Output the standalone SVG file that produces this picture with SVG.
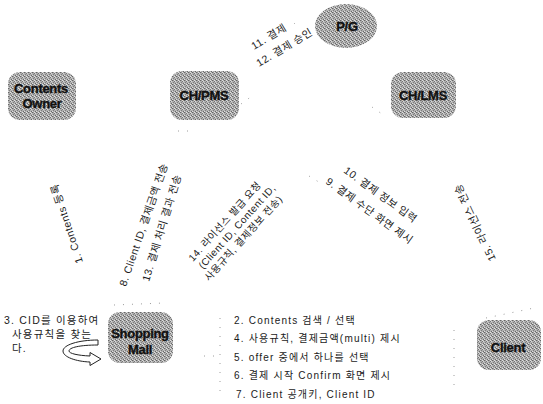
<svg xmlns="http://www.w3.org/2000/svg" width="543" height="404" viewBox="0 0 543 404">
  <defs>
    <!-- halftone screen used for the node fills -->
    <pattern id="screen" width="4" height="4" patternUnits="userSpaceOnUse">
      <rect width="4" height="4" fill="#b0b0b0"/>
      <rect x="0" y="0" width="1" height="1" fill="#666"/>
      <rect x="2" y="1" width="1" height="1" fill="#747474"/>
      <rect x="1" y="2" width="1" height="1" fill="#7e7e7e"/>
      <rect x="3" y="3" width="1" height="1" fill="#6a6a6a"/>
      <rect x="2" y="0" width="1" height="1" fill="#e2e2e2"/>
      <rect x="0" y="3" width="1" height="1" fill="#dcdcdc"/>
      <rect x="3" y="1" width="1" height="1" fill="#d6d6d6"/>
      <rect x="1" y="0" width="1" height="1" fill="#989898"/>
    </pattern>
    <filter id="soft" x="-10%" y="-10%" width="120%" height="120%">
      <feGaussianBlur stdDeviation="0.6"/>
    </filter>
  </defs>
  <style>
    .box { fill: url(#screen); filter: url(#soft); }
    .name { font-family: "Liberation Sans", Arial, sans-serif; font-weight: bold; font-size: 13px; fill: #111; stroke: #111; stroke-width: 0.35px; text-anchor: middle; letter-spacing: -0.3px; }
    .lbl { font-family: "Liberation Sans", "Noto Sans CJK KR", sans-serif; font-size: 10.5px; letter-spacing: 0.5px; fill: #1a1a1a; }
    .lbl.tight { font-size: 10px; }
    .step { font-family: "Liberation Sans", "Noto Sans CJK KR", sans-serif; font-size: 10px; letter-spacing: 1.2px; fill: #1a1a1a; }
    .note { font-family: "Liberation Sans", "Noto Sans CJK KR", sans-serif; font-size: 10.5px; letter-spacing: 1.2px; fill: #1a1a1a; }
    .trace { fill: none; stroke: #9c9c9c; stroke-width: 1; stroke-dasharray: 1 8; }
    .turn { fill: #fff; stroke: #222; stroke-width: 1; }
  </style>

  <rect width="543" height="404" fill="#fff"/>

  <!-- faint connector traces -->
  <g id="connectors">
    <path class="trace" d="M241 104 L252 96"/>
    <path class="trace" d="M178 131 L190 131"/>
    <path class="trace" d="M372 107 L382 114"/>
    <path class="trace" d="M294 23 L296 25"/>
    <path class="trace" d="M309 176 L322 184"/>
    <path class="trace" d="M114 305 L164 303"/>
    <path class="trace" d="M220 318 L220 396"/>
    <path class="trace" d="M204 356 L222 356"/>
    <path class="trace" d="M454 330 L454 388"/>
    <path class="trace" d="M486 318 L534 308"/>
  </g>

  <g id="node-pg">
    <ellipse class="box" cx="346" cy="26" rx="31" ry="22"/>
    <text class="name" x="347" y="31">P/G</text>
  </g>

  <g id="node-contents-owner">
    <rect class="box" x="8" y="72" width="68" height="48" rx="12"/>
    <text class="name" x="41" y="93">Contents</text>
    <text class="name" x="42" y="108">Owner</text>
  </g>

  <g id="node-ch-pms">
    <rect class="box" x="170" y="71" width="69" height="49" rx="12"/>
    <text class="name" x="204" y="100">CH/PMS</text>
  </g>

  <g id="node-ch-lms">
    <rect class="box" x="391" y="72" width="65" height="46" rx="12"/>
    <text class="name" x="423" y="100">CH/LMS</text>
  </g>

  <g id="node-shopping-mall">
    <rect class="box" x="108" y="312" width="65" height="51" rx="12"/>
    <text class="name" x="140" y="338">Shopping</text>
    <text class="name" x="140" y="354">Mall</text>
  </g>

  <g id="node-client">
    <rect class="box" x="477" y="320" width="64" height="50" rx="12"/>
    <text class="name" x="508" y="352">Client</text>
  </g>

  <!-- step labels along the links -->
  <g id="link-labels">
    <text class="lbl" transform="translate(254,50) rotate(-31)">11. 결제</text>
    <text class="lbl" transform="translate(259,67) rotate(-31)">12. 결제 승인</text>
    <text class="lbl" transform="translate(83,262) rotate(-108)">1. Contents 등록</text>
    <text class="lbl" transform="translate(126,287) rotate(-71)">8. Client ID, 결제금액 전송</text>
    <text class="lbl" transform="translate(149,282) rotate(-73)">13. 결제 처리 결과 전송</text>
    <text class="lbl tight" transform="translate(193,262) rotate(-48)">
      <tspan x="0" y="0">14. 라이선스 발급 요청</tspan>
      <tspan x="1" y="12.5">(Client ID, Content ID,</tspan>
      <tspan x="-4" y="25">사용규칙, 결제정보 전송)</tspan>
    </text>
    <text class="lbl" transform="translate(343,172) rotate(36)">10. 결제 정보 입력</text>
    <text class="lbl" transform="translate(325,183) rotate(36)">9. 결제 수단 화면 제시</text>
    <text class="lbl" transform="translate(496,259) rotate(-115)">15. 라이선스 전송</text>
  </g>

  <!-- self step at the shopping mall -->
  <g id="self-step">
    <path class="turn" d="M98 340 C78 340 63 345 63 351 C63 357 76 361.5 90 362 L90 365.5 L101 359 L90 352.5 L90 356 C78 355.5 69 353.5 69 351 C69 347.5 80 345 98 345 Z"/>
    <text class="note" x="4" y="324">3. CID를 이용하여</text>
    <text class="note" x="12" y="338">사용규칙을 찾는</text>
    <text class="note" x="12" y="352">다.</text>
  </g>

  <!-- steps between the shopping mall and the client -->
  <g id="mall-client-steps">
    <text class="step" x="234" y="324">2. Contents 검색 / 선택</text>
    <text class="step" x="234" y="342">4. 사용규칙, 결제금액(multi) 제시</text>
    <text class="step" x="234" y="361">5. offer 중에서 하나를 선택</text>
    <text class="step" x="234" y="379">6.  결제 시작 Confirm 화면 제시</text>
    <text class="step" x="236" y="398">7. Client 공개키, Client ID</text>
  </g>
</svg>
